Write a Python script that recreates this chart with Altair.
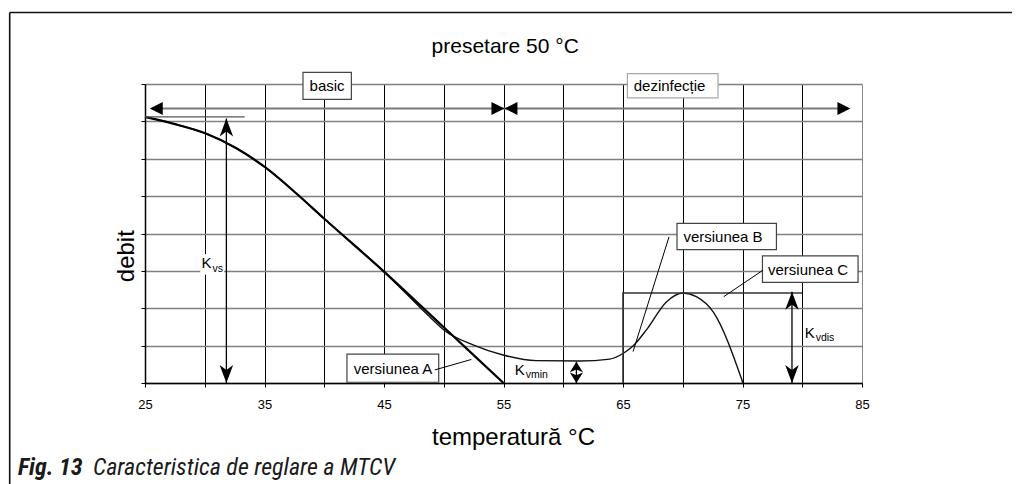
import altair as alt
import pandas as pd

# ---------------- data ----------------
# common part of the characteristic (temperature °C, flow)
common_t = [25.0, 27.34, 30.05, 32.65, 35.02, 37.67, 39.98, 45.0]
common_v = [7.12, 6.94, 6.68, 6.28, 5.78, 5.07, 4.40, 2.98]

# versiunea A: straight down to 0 at 55 °C
a_t = common_t + [50.0, 55.0]
a_v = common_v + [1.49, 0.0]

# versiunea B: plateau at Kvmin, bump to Kvdis around 70 °C
b_t = common_t + [48.82, 50.0, 52.45, 54.96, 57.75, 61.38, 63.89, 65.0, 65.84,
                  66.96, 68.63, 70.02, 71.14, 72.53, 75.04]
b_v = common_v + [1.77, 1.42, 1.02, 0.75, 0.60, 0.59, 0.64, 0.79, 0.99,
                  1.42, 2.17, 2.41, 2.31, 1.91, 0.0]

# versiunea C: step at 65 °C up to Kvdis until 80 °C
c_t = [65.0, 65.0, 80.0]
c_v = [0.0, 2.41, 2.41]

# label boxes
box_labels = ["basic", "dezinfecție", "versiunea A", "versiunea B", "versiunea C"]
box_t1 = [38.22, 65.37, 41.90, 69.52, 76.67]
box_t2 = [42.27, 72.95, 49.58, 77.84, 84.67]
box_v1 = [7.59, 7.63, 0.02, 3.57, 2.69]
box_v2 = [8.31, 8.28, 0.775, 4.27, 3.40]
box_text_t = [40.24, 68.90, 45.75, 73.37, 80.48]
box_text_v = [7.95, 7.95, 0.38, 3.91, 3.03]

# leader lines from the boxes to the curves
lead_t1 = [49.25, 68.85, 76.72]
lead_v1 = [0.35, 3.91, 3.02]
lead_t2 = [52.31, 65.84, 73.43]
lead_v2 = [0.63, 0.84, 2.31]

# K labels (main letter + subscript)
k_names = ["Kvs", "Kvmin", "Kvdis"]
k_t = [29.72, 55.94, 80.20]
k_v = [3.07, 0.214, 1.21]
k_sub = ["vs", "vmin", "vdis"]
k_sub_t = [30.64, 56.86, 81.12]
k_sub_v = [2.98, 0.14, 1.13]
kvs_bg_t = [29.62, 31.62]
kvs_bg_v = [2.90, 3.45]

# double arrows (Kvs, Kvdis big ; Kvmin small)
big_arrow_t = [31.81, 79.14]
big_arrow_v1 = [0.0, 0.0]
big_arrow_v2 = [7.08, 2.44]
small_arrow_t = [61.10]
small_arrow_v1 = [0.0]
small_arrow_v2 = [0.57]

# Kvs reference level line
ref_t = [25.0, 33.34]
ref_v = [7.12, 7.12]

# range arrows at the top: basic 25-55, dezinfecție 55-85
range_v = 7.345
range_line_t = [25.6, 83.6]
range_left_tips = [25.40, 55.08]
range_right_tips = [55.08, 84.03]

title_text = ["presetare 50 °C"]
caption_parts = ["Fig. 13", "Caracteristica de reglare a MTCV"]

# ---------------- chart ----------------
W, H = 717, 299
FONT = "Liberation Sans"

SX = alt.Scale(domain=[25, 85], nice=False, zero=False)
SY = alt.Scale(domain=[0, 8], nice=False, zero=False)

XAX = alt.Axis(
    values=list(range(25, 86, 5)),
    labelExpr="datum.value % 10 == 5 ? datum.label : ''",
    grid=True,
    gridColor={"condition": {"test": "datum.value == 85", "value": "#888888"}, "value": "#000000"},
    gridWidth=1,
    domainColor="#000000", domainWidth=1.5,
    tickColor="#000000", tickSize=4, tickWidth=1,
    labelFont=FONT, labelFontSize=13, labelColor="#000000", labelPadding=11,
    labelFlush=False, labelOverlap=False,
    titleFont=FONT, titleFontSize=24, titleFontWeight="normal", titleColor="#000000",
    titleX=368, titleY=61, titleBaseline="alphabetic", titleAlign="center",
)
YAX = alt.Axis(
    values=list(range(0, 9)),
    labels=False,
    grid=True, gridColor="#808080", gridWidth=1.3,
    domainColor="#000000", domainWidth=1.5,
    tickColor="#000000", tickSize=4, tickWidth=1,
    titleFont=FONT, titleFontSize=24, titleFontWeight="normal", titleColor="#000000",
    titleX=-11.3, titleY=171.7, titleAngle=270, titleBaseline="alphabetic", titleAlign="center",
)


def X(f):
    return alt.X(f, type="quantitative", scale=SX, axis=XAX, title="temperatură °C")


def Y(f):
    return alt.Y(f, type="quantitative", scale=SY, axis=YAX, title="debit")


df_a = pd.DataFrame({"t": a_t, "v": a_v})
df_b = pd.DataFrame({"t": b_t, "v": b_v})
df_c = pd.DataFrame({"t": c_t, "v": c_v, "i": list(range(len(c_t)))})
df_box = pd.DataFrame({"label": box_labels, "t": box_t1, "t2": box_t2, "v": box_v1, "v2": box_v2,
                       "tt": box_text_t, "tv": box_text_v})
df_lead = pd.DataFrame({"t": lead_t1, "v": lead_v1, "t2": lead_t2, "v2": lead_v2})
df_k = pd.DataFrame({"name": k_names, "t": k_t, "v": k_v, "sub": k_sub, "st": k_sub_t, "sv": k_sub_v})
df_kbg = pd.DataFrame({"t": [kvs_bg_t[0]], "t2": [kvs_bg_t[1]], "v": [kvs_bg_v[0]], "v2": [kvs_bg_v[1]]})
df_big = pd.DataFrame({"t": big_arrow_t, "v": big_arrow_v1, "v2": big_arrow_v2})
df_small = pd.DataFrame({"t": small_arrow_t, "v": small_arrow_v1, "v2": small_arrow_v2})
df_ref = pd.DataFrame({"t": ref_t, "v": ref_v})
df_range = pd.DataFrame({"t": [range_line_t[0]], "t2": [range_line_t[1]], "v": [range_v]})
df_lt = pd.DataFrame({"t": range_left_tips, "v": [range_v] * len(range_left_tips)})
df_rt = pd.DataFrame({"t": range_right_tips, "v": [range_v] * len(range_right_tips)})
df_title = pd.DataFrame({"txt": title_text})
df_cap1 = pd.DataFrame({"txt": [caption_parts[0]]})
df_cap2 = pd.DataFrame({"txt": [caption_parts[1]]})
df_one = pd.DataFrame({"a": [0]})

UP = "M0,0 L0.75,2 L0,1.45 L-0.75,2 Z"
DOWN = "M0,0 L0.75,-2 L0,-1.45 L-0.75,-2 Z"
UP_S = "M0,0 L1.25,2 L0,1.5 L-1.25,2 Z"
DOWN_S = "M0,0 L1.25,-2 L0,-1.5 L-1.25,-2 Z"
TRI_L = "M0,0 L2,-1 L2,1 Z"
TRI_R = "M0,0 L-2,-1 L-2,1 Z"

layers = []

# curves
layers.append(alt.Chart(df_b).mark_line(interpolate="monotone", color="#111111", strokeWidth=1.4)
              .encode(x=X("t"), y=Y("v")))
layers.append(alt.Chart(df_a).mark_line(interpolate="monotone", color="#000000", strokeWidth=2.2)
              .encode(x=X("t"), y=Y("v")))
layers.append(alt.Chart(df_c).mark_line(color="#333333", strokeWidth=1.6)
              .encode(x=X("t"), y=Y("v"), order=alt.Order("i:Q")))

# Kvs reference line
layers.append(alt.Chart(df_ref).mark_line(color="#555555", strokeWidth=1.2)
              .encode(x=X("t"), y=Y("v")))

# range line + arrowheads
layers.append(alt.Chart(df_range).mark_rule(color="#7a7a7a", strokeWidth=2)
              .encode(x=X("t"), x2="t2", y=Y("v")))
layers.append(alt.Chart(df_lt).mark_point(shape=TRI_L, size=169, filled=True, color="#000000",
                                          opacity=1, strokeWidth=0)
              .encode(x=X("t"), y=Y("v")))
layers.append(alt.Chart(df_rt).mark_point(shape=TRI_R, size=169, filled=True, color="#000000",
                                          opacity=1, strokeWidth=0)
              .encode(x=X("t"), y=Y("v")))

# label boxes
layers.append(alt.Chart(df_box).mark_rect(fill="white", strokeWidth=1.2)
              .encode(x=X("t"), x2="t2", y=Y("v"), y2="v2",
                      stroke=alt.condition(alt.datum.label == "dezinfecție",
                                           alt.value("#a8a8a8"), alt.value("#444444"))))
layers.append(alt.Chart(df_box).mark_text(font=FONT, fontSize=15, color="#000000",
                                          align="center", baseline="middle")
              .encode(x=X("tt"), y=Y("tv"), text="label:N"))

# leader lines
layers.append(alt.Chart(df_lead).mark_rule(color="#000000", strokeWidth=1)
              .encode(x=X("t"), y=Y("v"), x2="t2", y2="v2"))

# K labels
layers.append(alt.Chart(df_kbg).mark_rect(fill="white", strokeWidth=0)
              .encode(x=X("t"), x2="t2", y=Y("v"), y2="v2"))
layers.append(alt.Chart(df_k).mark_text(font=FONT, fontSize=15, color="#000000",
                                        align="left", baseline="alphabetic")
              .encode(x=X("t"), y=Y("v"), text=alt.value("K")))
layers.append(alt.Chart(df_k).mark_text(font=FONT, fontSize=10.5, color="#000000",
                                        align="left", baseline="alphabetic")
              .encode(x=X("st"), y=Y("sv"), text="sub:N"))

# double arrows
for d, up, down, size in [(df_big, UP, DOWN, 324), (df_small, UP_S, DOWN_S, 110)]:
    layers.append(alt.Chart(d).mark_rule(color="#000000", strokeWidth=1.3)
                  .encode(x=X("t"), y=Y("v"), y2="v2"))
    layers.append(alt.Chart(d).mark_point(shape=up, size=size, filled=True, color="#000000",
                                          opacity=1, strokeWidth=0)
                  .encode(x=X("t"), y=Y("v2")))
    layers.append(alt.Chart(d).mark_point(shape=down, size=size, filled=True, color="#000000",
                                          opacity=1, strokeWidth=0)
                  .encode(x=X("t"), y=Y("v")))

# title
layers.append(alt.Chart(df_title).mark_text(font=FONT, fontSize=21, color="#000000",
                                            align="center", baseline="alphabetic")
              .encode(x=alt.value(W / 2 + 1.7), y=alt.value(-31), text="txt:N"))

# figure frame (top and left lines) and caption
layers.append(alt.Chart(df_one).mark_rule(color="#111111", strokeWidth=1.6)
              .encode(x=alt.value(-135.3), x2=alt.value(W + 200), y=alt.value(-71.5)))
layers.append(alt.Chart(df_one).mark_rule(color="#111111", strokeWidth=1.6)
              .encode(x=alt.value(-135.3), y=alt.value(-71.5), y2=alt.value(H + 200)))
CAPFONT = "Liberation Sans Narrow, Roboto Condensed, DejaVu Sans Condensed, Arial Narrow, sans-serif"
layers.append(alt.Chart(df_cap1).mark_text(font=CAPFONT, fontSize=24, fontStyle="italic",
                                           fontWeight="bold", color="#1a1a1a",
                                           align="left", baseline="alphabetic")
              .encode(x=alt.value(-127), y=alt.value(391), text="txt:N"))
layers.append(alt.Chart(df_cap2).mark_text(font=CAPFONT, fontSize=24, fontStyle="italic",
                                           fontWeight="normal", color="#1a1a1a",
                                           align="left", baseline="alphabetic")
              .encode(x=alt.value(-52), y=alt.value(391), text="txt:N"))

chart = alt.layer(*layers).properties(
    width=W,
    height=H,
    autosize=alt.AutoSizeParams(type="none"),
    padding={"left": 137, "top": 76, "right": 150, "bottom": 101},
).configure_view(strokeWidth=0).configure(background="white")

chart.save("out.html", embed_options={"renderer": "svg", "actions": False})
